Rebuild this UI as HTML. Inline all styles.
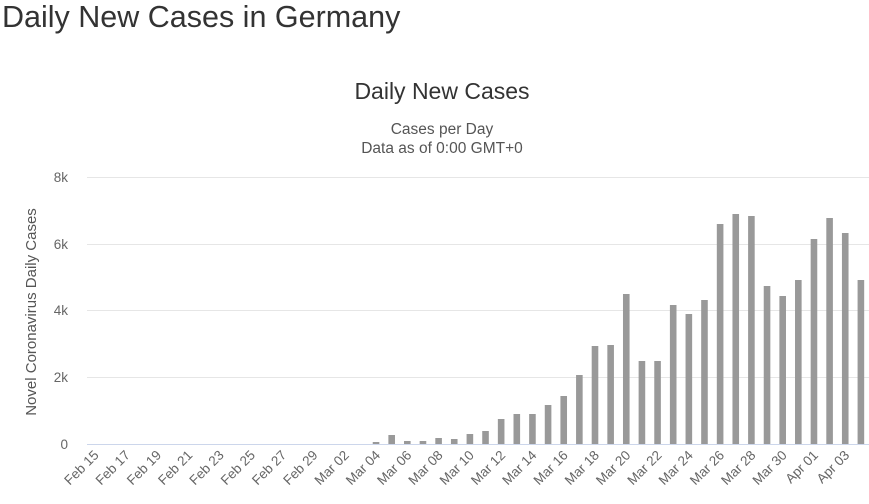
<!DOCTYPE html>
<html><head><meta charset="utf-8"><style>
body{margin:0;background:#fff;width:869px;height:499px;overflow:hidden;font-family:"Liberation Sans",sans-serif}
</style></head><body>
<svg width="869" height="499" xmlns="http://www.w3.org/2000/svg" font-family="Liberation Sans, sans-serif">
<text x="2" y="27" font-size="30.5" fill="#333">Daily New Cases in Germany</text>
<text x="442" y="99" font-size="23" fill="#333" text-anchor="middle">Daily New Cases</text>
<text x="442" y="134" font-size="15.5" fill="#555" text-anchor="middle">Cases per Day</text>
<text x="442" y="153" font-size="15.5" fill="#555" text-anchor="middle">Data as of 0:00 GMT+0</text>
<g stroke="#e6e6e6" stroke-width="1">
<line x1="87" x2="869" y1="177.5" y2="177.5"/><line x1="87" x2="869" y1="244.5" y2="244.5"/>
<line x1="87" x2="869" y1="310.5" y2="310.5"/><line x1="87" x2="869" y1="377.5" y2="377.5"/>
</g>
<g font-size="13.5" fill="#666" text-anchor="end">
<text x="68" y="182">8k</text><text x="68" y="249">6k</text><text x="68" y="315">4k</text><text x="68" y="382">2k</text><text x="68" y="449">0</text>
</g>
<text transform="translate(36,312) rotate(-90)" font-size="15" fill="#555" text-anchor="middle">Novel Coronavirus Daily Cases</text>
<g id="bars" fill="#999"></g>
<line x1="87" x2="869" y1="444.5" y2="444.5" stroke="#ccd6eb"/>
<g id="labels" font-size="13.5" fill="#666" text-anchor="end"></g>
</svg>
<script>
var tops={18:442,19:435,20:441,21:441,22:438,23:439,24:434,25:431,26:419,27:414,28:414,29:405,30:396,31:375,32:346,33:345,34:294,35:361,36:361,37:305,38:314,39:300,40:224,41:214,42:216,43:286,44:296,45:280,46:239,47:218,48:233,49:280};
var b=document.getElementById('bars'),l=document.getElementById('labels'),ns='http://www.w3.org/2000/svg';
for(var i=0;i<50;i++){var cx=86.7+15.64*(i+0.5);
if(tops[i]){var r=document.createElementNS(ns,'rect');r.setAttribute('x',cx-3.3);r.setAttribute('y',tops[i]);r.setAttribute('width',6.6);r.setAttribute('height',444-tops[i]);b.appendChild(r);}
if(i%2==0){var d,m;if(i<15){m='Feb';d=15+i}else if(i<46){m='Mar';d=i-14}else{m='Apr';d=i-45}
var t=document.createElementNS(ns,'text');t.setAttribute('transform','translate('+(cx+5)+',456) rotate(-45)');t.textContent=m+' '+(d<10?'0'+d:d);l.appendChild(t);}}
</script>
</body></html>
